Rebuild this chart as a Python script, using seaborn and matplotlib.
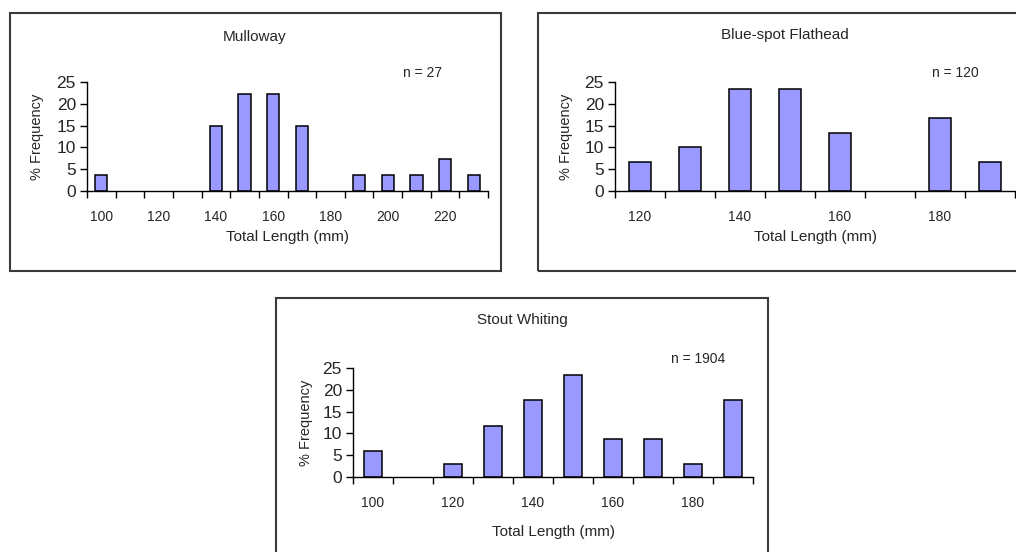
import numpy as np
import pandas as pd
import matplotlib
matplotlib.use("Agg")
import matplotlib.pyplot as plt
from matplotlib.patches import Rectangle
import seaborn as sns

sns.set_theme(style="ticks")
plt.rcParams["font.family"] = ["Liberation Sans", "DejaVu Sans"]

# data
mulloway_len = [100, 110, 120, 130, 140, 150, 160, 170, 180, 190, 200, 210, 220, 230]
mulloway_pct = [3.7, 0, 0, 0, 14.8, 22.2, 22.2, 14.8, 0, 3.7, 3.7, 3.7, 7.4, 3.7]

flathead_len = [120, 130, 140, 150, 160, 170, 180, 190]
flathead_pct = [6.7, 10.0, 23.3, 23.3, 13.3, 0, 16.7, 6.7]

whiting_len = [100, 110, 120, 130, 140, 150, 160, 170, 180, 190]
whiting_pct = [5.9, 0, 2.9, 11.8, 17.6, 23.5, 8.8, 8.8, 2.9, 17.6]

W, H = 1016, 552
BAR = "#9999FF"

fig = plt.figure(figsize=(W / 100, H / 100), dpi=100)


def ftext(x, y, s, **kw):
    # pixel coords -> figure fraction
    fig.text(x / W, 1 - y / H, s, ha="center", va="center", **kw)


def draw_panel(box, plot, lengths, pct, title, n, title_x, title_y, n_x, n_y, ylab_x, xlab_y):
    bx0, by0, bx1, by1 = box
    fig.add_artist(Rectangle((bx0 / W, 1 - by1 / H), (bx1 - bx0) / W, (by1 - by0) / H,
                             transform=fig.transFigure, fill=False,
                             edgecolor="#3a3a3a", linewidth=1.5))
    left, top, right, bottom = plot
    ax = fig.add_axes([left / W, 1 - bottom / H, (right - left) / W, (bottom - top) / H])
    df = pd.DataFrame({"length": [str(v) for v in lengths], "pct": pct})
    sns.barplot(data=df, x="length", y="pct", order=list(df["length"]), color=BAR,
                saturation=1, width=0.43, edgecolor="black", linewidth=1.1,
                errorbar=None, ax=ax)
    # empty classes: no outline on the axis
    for p in ax.patches:
        if p.get_height() == 0:
            p.set_visible(False)
    n_cat = len(lengths)
    ax.set_xlim(-0.5, n_cat - 0.5)
    ax.set_ylim(0, 25)
    ax.set_yticks(range(0, 26, 5))
    ax.set_xticks(range(0, n_cat, 2))
    ax.set_xticklabels([str(v) for v in lengths[::2]])
    ax.set_xticks(np.arange(-0.5, n_cat), minor=True)
    ax.tick_params(axis="x", which="major", length=0, labelsize=10, pad=14)
    ax.tick_params(axis="x", which="minor", length=5, width=1, direction="out", color="black")
    ax.tick_params(axis="y", length=5, width=1, labelsize=12.5, pad=3, color="black")
    ax.set_xlabel("")
    ax.set_ylabel("")
    sns.despine(ax=ax)
    for sp in ["left", "bottom"]:
        ax.spines[sp].set_color("black")
        ax.spines[sp].set_linewidth(1)

    ftext(title_x, title_y, title, fontsize=11)
    ftext(n_x, n_y, f"n = {n}", fontsize=10)
    ftext(ylab_x, (top + bottom) / 2, "% Frequency", fontsize=10.5, rotation=90)
    ftext((left + right) / 2, xlab_y, "Total Length (mm)", fontsize=11)
    return ax


draw_panel((10, 13, 501, 271), (87, 82, 488, 191), mulloway_len, mulloway_pct,
           "Mulloway", 27, 255, 37, 423, 73, 37, 237)
draw_panel((538, 13, 1030, 271), (615, 82, 1015, 191), flathead_len, flathead_pct,
           "Blue-spot Flathead", 120, 785, 35, 955, 73, 566, 237)
draw_panel((276, 298, 768, 570), (353, 368, 753, 477), whiting_len, whiting_pct,
           "Stout Whiting", 1904, 522, 320, 698, 359, 306, 532)

fig.savefig("out.png", dpi=100, facecolor="white")
